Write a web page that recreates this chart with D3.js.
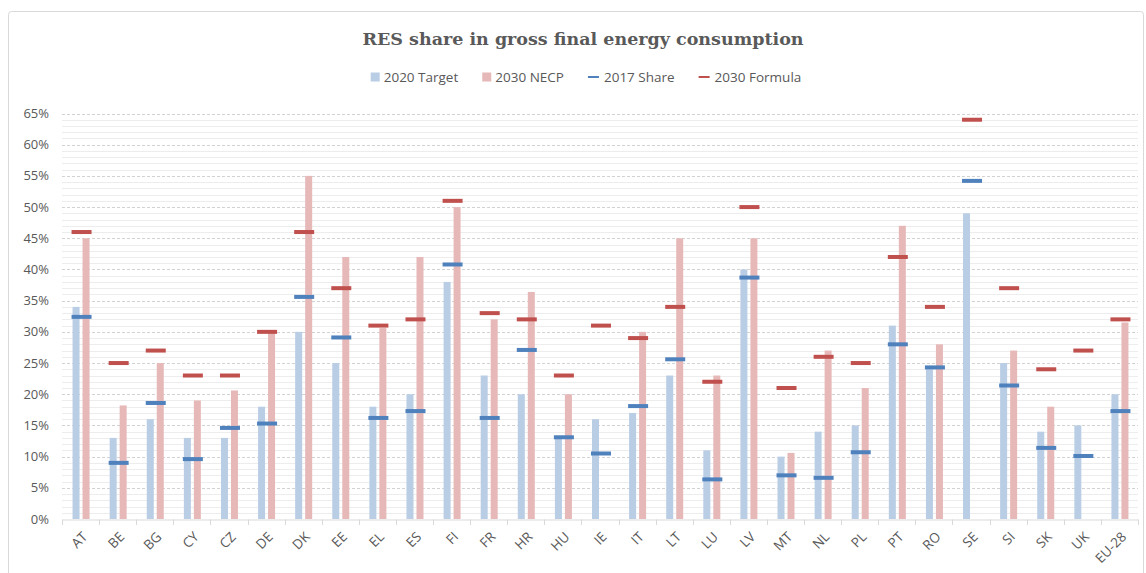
<!DOCTYPE html>
<html>
<head>
<meta charset="utf-8">
<script src="https://cdn.jsdelivr.net/npm/d3@7"></script>
<style>
  body { margin: 0; background: #fff; }
  text { font-family: "Open Sans", "Noto Sans", sans-serif; fill: #595959; }
</style>
</head>
<body>
<div id="chart"></div>
<script>
// Data
const countries = ["AT","BE","BG","CY","CZ","DE","DK","EE","EL","ES","FI","FR","HR","HU","IE","IT","LT","LU","LV","MT","NL","PL","PT","RO","SE","SI","SK","UK","EU-28"];
const target2020 = [34,13,16,13,13,18,30,25,18,20,38,23,20,13,16,17,23,11,40,10,14,15,31,24,49,25,14,15,20];
const necp2030   = [45,18.2,25,19,20.6,30,55,42,30.6,42,50,32,36.4,20,null,30,45,23,45,10.6,27,21,47,28,null,27,18,null,31.5];
const share2017  = [32.4,9,18.6,9.6,14.6,15.3,35.6,29.1,16.2,17.3,40.8,16.2,27.1,13.1,10.5,18.1,25.6,6.35,38.7,7,6.6,10.7,28,24.3,54.2,21.4,11.4,10.1,17.3];
const formula2030 = [46,25,27,23,23,30,46,37,31,32,51,33,32,23,31,29,34,22,50,21,26,25,42,34,64,37,24,27,32];
const yTicks = d3.range(0, 66, 5);
const legendItems = [
  { name: "2020 Target", type: "box", color: "#b9cde5" },
  { name: "2030 NECP", type: "box", color: "#e6b9b8" },
  { name: "2017 Share", type: "dash", color: "#4f81bd" },
  { name: "2030 Formula", type: "dash", color: "#c0504d" }
];

const width = 1146, height = 573;

const svg = d3.select("#chart").append("svg")
  .attr("width", width).attr("height", height);

// chart frame
svg.append("rect")
  .attr("x", 8.5).attr("y", 11.5)
  .attr("width", 1135).attr("height", 620)
  .attr("rx", 3)
  .attr("fill", "none").attr("stroke", "#d9d9d9");

const x = d3.scaleBand().domain(countries).range([62, 1138]);
const y = d3.scaleLinear().domain([0, 65]).range([519, 113.5]);
const sub = d3.scaleBand().domain(["t", "n"])
  .range([x.bandwidth() / 2 - 8, x.bandwidth() / 2 + 9])
  .paddingInner(0.3);

// gridlines: minor every 1%, major every 5%
svg.append("g").selectAll("line")
  .data(d3.range(1, 66).filter(d => d % 5 !== 0))
  .join("line")
  .attr("x1", 62).attr("x2", 1138)
  .attr("y1", d => Math.round(y(d)) + 0.5).attr("y2", d => Math.round(y(d)) + 0.5)
  .attr("stroke", "#ededed");

svg.append("g").selectAll("line")
  .data(yTicks.filter(d => d > 0))
  .join("line")
  .attr("x1", 62).attr("x2", 1138)
  .attr("y1", d => Math.round(y(d)) + 0.5).attr("y2", d => Math.round(y(d)) + 0.5)
  .attr("stroke", "#d2d2d2")
  .attr("stroke-dasharray", "3,2");

// y axis labels
svg.append("g").selectAll("text")
  .data(yTicks)
  .join("text")
  .attr("x", 49).attr("y", d => y(d))
  .attr("dy", "0.35em")
  .attr("text-anchor", "end")
  .style("font-size", "13px")
  .text(d => d + "%");

// bars
const groups = svg.append("g").selectAll("g")
  .data(countries)
  .join("g")
  .attr("transform", d => `translate(${x(d)},0)`);

groups.append("rect")
  .attr("x", sub("t"))
  .attr("width", sub.bandwidth())
  .attr("y", (d, i) => y(target2020[i]))
  .attr("height", (d, i) => y(0) - y(target2020[i]))
  .attr("fill", "#b9cde5");

groups.filter((d, i) => necp2030[i] != null)
  .append("rect")
  .attr("x", sub("n"))
  .attr("width", sub.bandwidth())
  .attr("y", d => y(necp2030[countries.indexOf(d)]))
  .attr("height", d => y(0) - y(necp2030[countries.indexOf(d)]))
  .attr("fill", "#e6b9b8");

// dash markers
const dashW = 20, dashH = 4;
groups.append("rect")
  .attr("x", x.bandwidth() / 2 + 1 - dashW / 2)
  .attr("width", dashW)
  .attr("y", (d, i) => y(formula2030[i]) - dashH / 2)
  .attr("height", dashH)
  .attr("fill", "#c0504d");

groups.append("rect")
  .attr("x", x.bandwidth() / 2 + 1 - dashW / 2)
  .attr("width", dashW)
  .attr("y", (d, i) => y(share2017[i]) - dashH / 2)
  .attr("height", dashH)
  .attr("fill", "#4f81bd");

// x axis
const xAxis = svg.append("g")
  .attr("transform", "translate(0,519.5)")
  .call(d3.axisBottom(x).tickSize(0).tickFormat(""));
xAxis.select(".domain").attr("stroke", "#d9d9d9");

svg.append("g").selectAll("line")
  .data(d3.range(countries.length + 1))
  .join("line")
  .attr("x1", i => Math.round(62 + i * x.step()) + 0.5)
  .attr("x2", i => Math.round(62 + i * x.step()) + 0.5)
  .attr("y1", 519.5).attr("y2", 525)
  .attr("stroke", "#d9d9d9");

svg.append("g").selectAll("text")
  .data(countries)
  .join("text")
  .attr("transform", d => `translate(${x(d) + x.bandwidth() / 2 + 1},531) rotate(-45)`)
  .attr("text-anchor", "end")
  .attr("dy", "0.7em")
  .style("font-size", "13.5px")
  .text(d => d);

// title
svg.append("text")
  .attr("x", 583).attr("y", 45)
  .attr("text-anchor", "middle")
  .style("font-family", "'DejaVu Serif', serif")
  .style("font-weight", "bold")
  .style("font-size", "17.5px")
  .text("RES share in gross final energy consumption");

// legend
const legend = svg.append("g");
let lx = 0;
legendItems.forEach(item => {
  const g = legend.append("g").attr("transform", `translate(${lx},0)`);
  if (item.type === "box") {
    g.append("rect").attr("x", 0).attr("y", -4.5).attr("width", 9).attr("height", 9).attr("fill", item.color);
  } else {
    g.append("rect").attr("x", 0).attr("y", -1).attr("width", 11).attr("height", 2).attr("fill", item.color);
  }
  const t = g.append("text")
    .attr("x", item.type === "box" ? 13 : 16).attr("y", 0)
    .attr("dy", "0.35em")
    .style("font-size", "13.5px")
    .text(item.name);
  lx += (item.type === "box" ? 13 : 16) + t.node().getComputedTextLength() + 24;
});
const lw = lx - 24;
legend.attr("transform", `translate(${586 - lw / 2},77)`);
</script>
</body>
</html>
